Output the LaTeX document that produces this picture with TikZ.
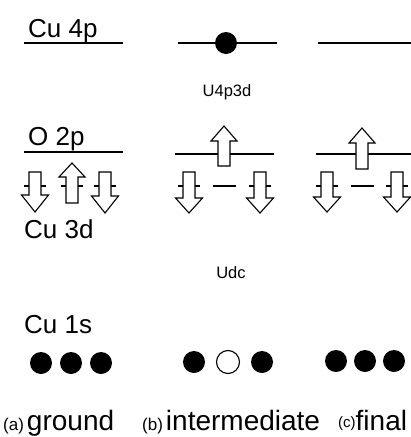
\documentclass[tikz,border=0pt]{standalone}
\usepackage{fontspec}
\setmainfont{Liberation Sans}
\newcommand\DownArr[4]{% cx, top, head base, tip
  \draw[arr] (#1-6,#2) -- (#1+6,#2) -- (#1+6,#3) -- (#1+13.5,#3) -- (#1,#4)
    -- (#1-13.5,#3) -- (#1-6,#3) -- cycle;}
\newcommand\UpArr[4]{% cx, bottom, head base, tip
  \draw[arr] (#1-6,#2) -- (#1+6,#2) -- (#1+6,#3) -- (#1+13,#3) -- (#1,#4)
    -- (#1-13,#3) -- (#1-6,#3) -- cycle;}
\begin{document}
\begin{tikzpicture}[x=1pt,y=-1pt,
  level/.style={line width=1.8pt},
  tick/.style={line width=1.8pt},
  arr/.style={draw=black, fill=white, line width=1.1pt, line join=miter},
  lbl/.style={inner sep=0pt, anchor=base west, font=\fontsize{26}{26}\selectfont},
  small/.style={inner sep=0pt, anchor=base, font=\fontsize{16.5}{16.5}\selectfont},
  bottom/.style={inner sep=0pt, anchor=base west}]
\useasboundingbox (0,0) rectangle (411,437);

% Cu 4p levels
\draw[level] (24,43) -- (123,43);
\draw[level] (178,43) -- (277,43);
\draw[level] (318,43) -- (411,43);
\fill (226,43) circle[radius=11pt];

% O 2p levels
\draw[level] (24,152) -- (123,152);
\draw[level] (175,154) -- (274,154);
\draw[level] (316,154) -- (411,154);

% Cu 3d ticks and dashes
\foreach \c in {35,72,105,189,260,327,397} \draw[tick] (\c-11,186) -- (\c+11,186);
\draw[tick] (213,186) -- (236,186);
\draw[tick] (351,186) -- (374,186);

% panel (a) arrows
\DownArr{35}{172}{195}{212}
\UpArr{72}{203}{177}{163}
\DownArr{105}{172}{196}{213}
% panel (b) arrows
\UpArr{224}{166}{141}{126}
\DownArr{189}{172}{198}{213}
\DownArr{260}{172}{198}{213}
% panel (c) arrows
\UpArr{362}{169}{143}{128}
\DownArr{327}{172}{197}{212}
\DownArr{397}{172}{197}{212}

% Cu 1s dots
\fill (41,363) circle[radius=11pt];
\fill (71,363) circle[radius=11pt];
\fill (101,363) circle[radius=11pt];
\fill (194,362) circle[radius=11pt];
\draw[line width=1.1pt] (228,362) circle[radius=11.5pt];
\fill (262,362) circle[radius=11pt];
\fill (336,361) circle[radius=11pt];
\fill (365,361) circle[radius=11pt];
\fill (394,361) circle[radius=11pt];

% texts
\node[lbl] (t4p) at (28,37) {Cu 4p};
\node[lbl] (t2p) at (28,145) {O 2p};
\node[lbl] (t3d) at (24,238) {Cu 3d};
\node[lbl] (t1s) at (24,333) {Cu 1s};
\node[small] (u43) at (227,96) {U4p3d};
\node[small] (udc) at (231,278) {Udc};
\node[bottom] (la) at (3,430) {\fontsize{17}{17}\selectfont(a)\hspace{3pt}\fontsize{28}{28}\selectfont ground};
\node[bottom] (lb) at (142,430) {\fontsize{17}{17}\selectfont(b)\hspace{3pt}\fontsize{28}{28}\selectfont intermediate};
\node[bottom] (lc) at (338,430) {\raisebox{3pt}{\fontsize{15}{15}\selectfont(c)}\fontsize{28}{28}\selectfont final};
\end{tikzpicture}
\end{document}
